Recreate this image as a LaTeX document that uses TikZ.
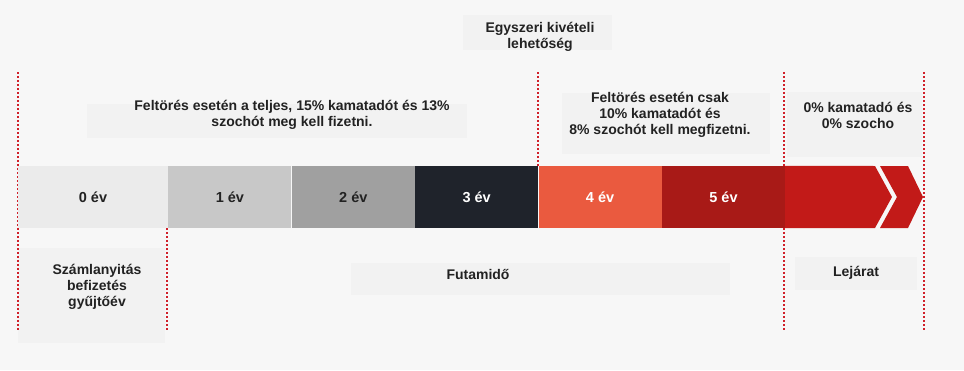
\documentclass[tikz,border=0pt]{standalone}
\usepackage{fontspec}
\setmainfont{Liberation Sans}
\usetikzlibrary{positioning}
\definecolor{paper}{HTML}{F7F7F7}
\definecolor{paneFill}{HTML}{F2F2F2}
\definecolor{ink}{HTML}{222222}
\definecolor{cutRed}{HTML}{D0202A}
\definecolor{yearA}{HTML}{EBEBEB}
\definecolor{yearB}{HTML}{C8C8C8}
\definecolor{yearC}{HTML}{A0A0A0}
\definecolor{yearD}{HTML}{1F232B}
\definecolor{yearE}{HTML}{EA5A3F}
\definecolor{yearF}{HTML}{A81A17}
\definecolor{tailRed}{HTML}{C21A18}

\begin{document}
\begin{tikzpicture}[
    x=1pt, y=-1pt,
    every node/.style={font=\fontsize{14}{16}\selectfont\bfseries, text=ink},
    seg/.style={rectangle, inner sep=0pt, minimum width=123pt, minimum height=62pt,
                font=\fontsize{14.5}{16}\selectfont\bfseries},
    note/.style={align=center, inner sep=0pt},
    pane/.style={fill=paneFill},
    cut/.style={draw=cutRed, line width=1.2pt, dash pattern=on 2pt off 2pt},
]

% --- Canvas ---
\fill[paper] (0,0) rectangle (964,370);
\useasboundingbox (0,0) rectangle (964,370);

% --- Text panes ---
\fill[pane] (87,104)  rectangle (467,138);
\fill[pane] (463,15)  rectangle (612,50);
\fill[pane] (562,93)  rectangle (770,154);
\fill[pane] (787,92)  rectangle (922,157);
\fill[pane] (18,248)  rectangle (165,343);
\fill[pane] (351,263) rectangle (730,295);
\fill[pane] (795,257) rectangle (917,290);

% --- Dotted period limits ---
\draw[cut] (18,72)  -- (18,330);
\draw[cut] (167,228) -- (167,330);
\draw[cut] (538,72) -- (538,166);
\draw[cut] (784,72) -- (784,330);
\draw[cut] (924,72) -- (924,330);

% --- Year bar ---
\node[seg, fill=yearA, minimum width=150pt] (ev0) at (93,197) {0 év};
\node[seg, fill=yearB, right=0pt of ev0] (ev1) {1 év};
\node[seg, fill=yearC, right=0pt of ev1] (ev2) {2 év};
\node[seg, fill=yearD, right=0pt of ev2, text=white] (ev3) {3 év};
\node[seg, fill=yearE, right=0pt of ev3, text=white] (ev4) {4 év};
\node[seg, fill=yearF, right=0pt of ev4, text=white] (ev5) {5 év};

% --- Arrow tail after year 5 ---
\fill[tailRed] (ev5.north east) -- (875,166) -- (892,197) -- (875,228)
    -- (ev5.south east) -- cycle;
\fill[tailRed] (880,166) -- (908,166) -- (923,197) -- (908,228)
    -- (880,228) -- (897,197) -- cycle;

% --- Notes above the bar ---
\node[note] (fullTax) at (292,115)
    {Feltörés esetén a teljes, 15\% kamatadót és 13\%\\szochót meg kell fizetni.};
\node[note] (withdraw) at (540,37) {Egyszeri kivételi\\lehetőség};
\node[note] (partTax) at (660,115)
    {Feltörés esetén csak\\10\% kamatadót és\\8\% szochót kell megfizetni.};
\node[note] (noTax) at (858,115) {0\% kamatadó és\\0\% szocho};

% --- Notes below the bar ---
\node[note] (opening) at (97,287) {Számlanyitás\\befizetés\\gyűjtőév};
\node[note] (term) at (478,274) {Futamidő};
\node[note] (maturity) at (856,273) {Lejárat};

\end{tikzpicture}
\end{document}
